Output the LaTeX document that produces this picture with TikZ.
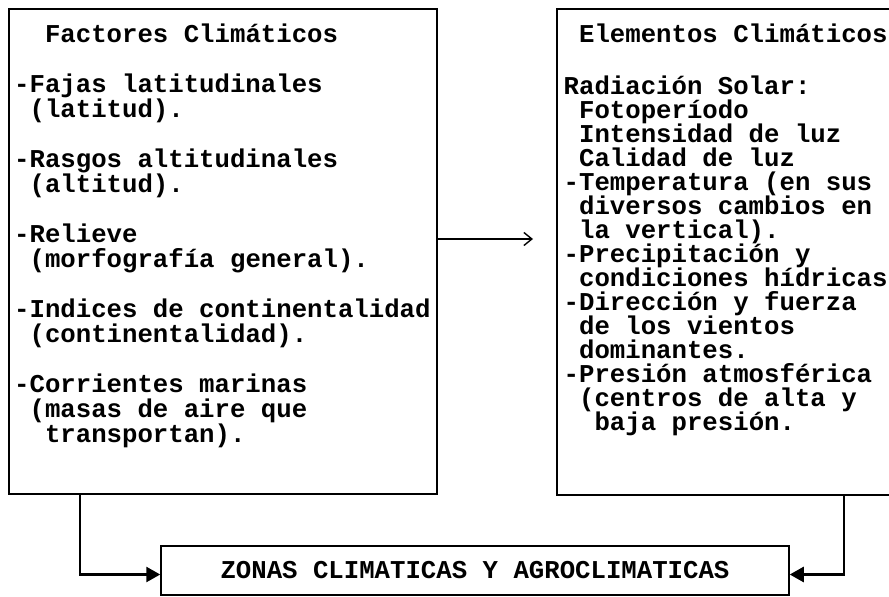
\documentclass[tikz,border=0pt]{standalone}
\usepackage{fontspec}
\newfontfamily\maquina{Liberation Mono}
\newcommand\letra[1]{\maquina\bfseries\fontsize{25.7pt}{#1}\selectfont}
\newcommand\esp{\hphantom{x}}
\usetikzlibrary{arrows.meta}

\begin{document}
\begin{tikzpicture}[x=1pt, y=-1pt,
  caja/.style={draw, line width=1.5pt, inner sep=0pt, anchor=north west},
  texto/.style={font=\letra{#1}, align=left, inner sep=0pt, anchor=north west},
  flecha/.style={line width=2.6pt, -{Triangle[length=14pt, width=15pt]}},
  flechita/.style={line width=1.4pt, -{Straight Barb[length=8pt, width=13pt]}}
]
\useasboundingbox (0,0) rectangle (889,597);

% boxes
\node[caja, minimum width=428, minimum height=485] (factores) at (8,8) {};
\node[caja, minimum width=336, minimum height=486] (elementos) at (556,8) {};
\node[caja, anchor=center, minimum width=628, minimum height=49, font=\letra{25pt}] (zonas) at (475,570.5) {ZONAS CLIMATICAS Y AGROCLIMATICAS};

% factores
\node[texto=25pt] (lista1) at (14,20) {\rule{0pt}{22pt}\esp\esp Factores Climáticos\\[25pt]
-Fajas latitudinales\\
\esp(latitud).\\[25pt]
-Rasgos altitudinales\\
\esp(altitud).\\[25pt]
-Relieve\\
\esp(morfografía general).\\[25pt]
-Indices de continentalidad\\
\esp(continentalidad).\\[25pt]
-Corrientes marinas\\
\esp(masas de aire que\\
\esp\esp transportan).};

% elementos
\node[texto=24pt] (lista2) at (563.5,20) {\rule{0pt}{22pt}\esp Elementos Climáticos\\[28pt]
Radiación Solar:\\
\esp Fotoperíodo\\
\esp Intensidad de luz\\
\esp Calidad de luz\\
-Temperatura (en sus\\
\esp diversos cambios en\\
\esp la vertical).\\
-Precipitación y\\
\esp condiciones hídricas\\
-Dirección y fuerza\\
\esp de los vientos\\
\esp dominantes.\\
-Presión atmosférica\\
\esp(centros de alta y\\
\esp\esp baja presión.};

% connectors
\coordinate (punta) at (533,239);
\draw[flechita] (factores.east |- punta) -- (punta);
\draw[flecha] (factores.south -| 80,0) |- ([yshift=-4pt]zonas.west);
\draw[flecha] (elementos.south -| 844,0) |- ([yshift=-4pt]zonas.east);

\end{tikzpicture}
\end{document}
